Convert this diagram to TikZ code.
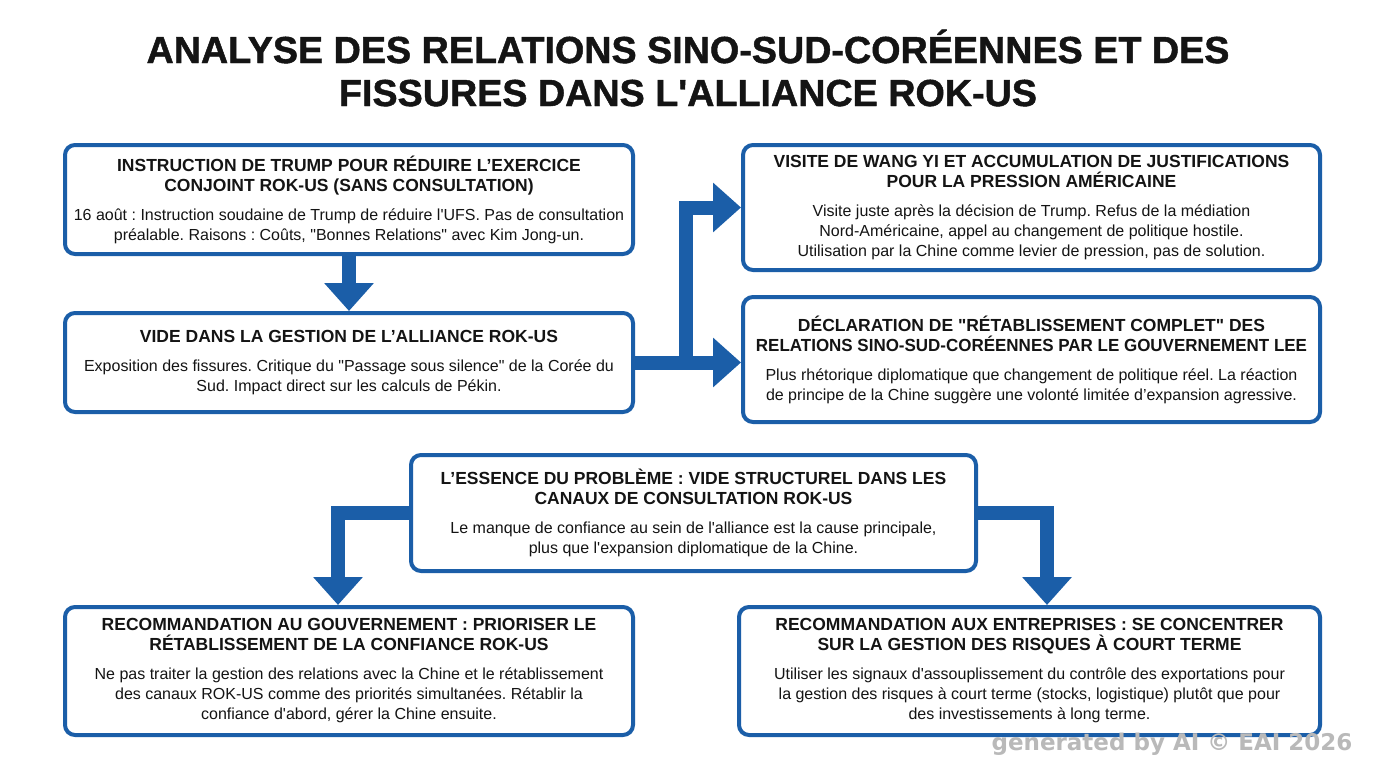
\documentclass[tikz,border=0pt]{standalone}
\usepackage{fontspec}
\setmainfont{Liberation Sans}
\newfontfamily\headfam{Liberation Sans}
\newfontfamily\titlefam{Liberation Sans Bold}[FakeBold=1.2]
\newfontfamily\wmfam{DejaVu Sans}
\usetikzlibrary{arrows.meta}
\definecolor{bblue}{HTML}{1B5EA8}
\definecolor{ink}{HTML}{141414}
\frenchspacing
\newcommand\hf{\headfam\bfseries\fontsize{17.5}{20.5}\selectfont}
\newcommand\bt{\normalfont\fontsize{16}{20}\selectfont}
\newcommand\dq{\textquotedbl}
\tikzset{
  box/.style={draw=bblue, line width=4pt, rounded corners=10pt, fill=white,
    inner sep=0pt, align=center, text=ink, font=\fontsize{16}{20}\selectfont},
  conn/.style={draw=bblue, color=bblue, line width=14pt,
    -{Triangle[width=48pt,length=28pt]}}
}
\begin{document}
\begin{tikzpicture}[x=1pt,y=-1pt]
\useasboundingbox (0,0) rectangle (1376,768);
\fill[white] (0,0) rectangle (1376,768);

\node[align=center, text=ink, font=\titlefam\fontsize{37.7}{43}\selectfont] (title) at (688,68)
  {ANALYSE DES RELATIONS SINO-SUD-CORÉENNES ET DES\\FISSURES DANS L\textquotesingle ALLIANCE ROK-US};

\node[box, minimum width=568pt, minimum height=109pt] (b1) at (349,199.5)
  {\hf INSTRUCTION DE TRUMP POUR RÉDUIRE L’EXERCICE\\\hf CONJOINT ROK-US (SANS CONSULTATION)\\[9pt]
   \bt 16 août : Instruction soudaine de Trump de réduire l\textquotesingle UFS. Pas de consultation\\\bt préalable. Raisons : Coûts, \dq Bonnes Relations\dq{} avec Kim Jong-un.};

\node[box, minimum width=568pt, minimum height=99pt] (b2) at (349,362.5)
  {\hf VIDE DANS LA GESTION DE L’ALLIANCE ROK-US\\[9pt]
   \bt Exposition des fissures. Critique du \dq Passage sous silence\dq{} de la Corée du\\\bt Sud. Impact direct sur les calculs de Pékin.};

\node[box, minimum width=577pt, minimum height=125pt] (b3) at (1031.5,207.5)
  {\hf VISITE DE WANG YI ET ACCUMULATION DE JUSTIFICATIONS\\\hf POUR LA PRESSION AMÉRICAINE\\[9pt]
   \bt Visite juste après la décision de Trump. Refus de la médiation\\\bt Nord-Américaine, appel au changement de politique hostile.\\\bt Utilisation par la Chine comme levier de pression, pas de solution.};

\node[box, minimum width=577pt, minimum height=125pt] (b4) at (1031.5,359.5)
  {\hf DÉCLARATION DE \dq RÉTABLISSEMENT COMPLET\dq{} DES\\\hf\addfontfeature{FakeStretch=0.97} RELATIONS SINO-SUD-CORÉENNES PAR LE GOUVERNEMENT LEE\\[9pt]
   \bt Plus rhétorique diplomatique que changement de politique réel. La réaction\\\bt de principe de la Chine suggère une volonté limitée d’expansion agressive.};

\node[box, minimum width=565pt, minimum height=116pt] (b5) at (693.5,513)
  {\hf L’ESSENCE DU PROBLÈME : VIDE STRUCTUREL DANS LES\\\hf CANAUX DE CONSULTATION ROK-US\\[9pt]
   \bt Le manque de confiance au sein de l\textquotesingle alliance est la cause principale,\\\bt plus que l\textquotesingle expansion diplomatique de la Chine.};

\node[box, minimum width=568pt, minimum height=128pt] (b6) at (349,671)
  {\hf RECOMMANDATION AU GOUVERNEMENT : PRIORISER LE\\\hf RÉTABLISSEMENT DE LA CONFIANCE ROK-US\\[9pt]
   \bt Ne pas traiter la gestion des relations avec la Chine et le rétablissement\\\bt des canaux ROK-US comme des priorités simultanées. Rétablir la\\\bt confiance d\textquotesingle abord, gérer la Chine ensuite.};

\node[box, minimum width=581pt, minimum height=128pt] (b7) at (1029.5,671)
  {\hf RECOMMANDATION AUX ENTREPRISES : SE CONCENTRER\\\hf SUR LA GESTION DES RISQUES À COURT TERME\\[9pt]
   \bt Utiliser les signaux d\textquotesingle assouplissement du contrôle des exportations pour\\\bt la gestion des risques à court terme (stocks, logistique) plutôt que pour\\\bt des investissements à long terme.};

\coordinate (fork) at (686,362.5);
\coordinate (l6) at (338,605);
\coordinate (r7) at (1047,605);

\draw[conn] (b1.south) -- (b2.north);
\draw[conn] (b2.east) -- (fork) |- (b3.west);
\draw[conn] (b2.east) -- (b2.east -| b4.west);
\draw[conn] (b5.west) -| (l6);
\draw[conn] (b5.east) -| (r7);

\node[anchor=base east, text=gray!55, font=\wmfam\bfseries\fontsize{23}{23}\selectfont] (wm) at (1356,750)
  {generated by AI © EAI 2026};
\end{tikzpicture}
\end{document}
